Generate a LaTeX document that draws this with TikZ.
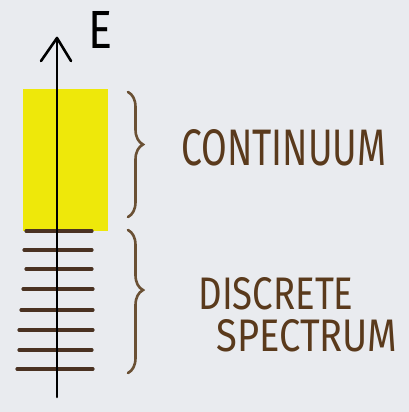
\documentclass[tikz,border=0pt]{standalone}
\usepackage{fontspec}
\setmainfont{Fira Sans}
\usetikzlibrary{decorations.pathreplacing}
\definecolor{bg}{HTML}{E9EBEF}
\definecolor{hl}{HTML}{EEE80A}
\definecolor{ink}{HTML}{4A3222}
\definecolor{txt}{HTML}{5A3A1C}
\definecolor{brc}{HTML}{6A5034}
\tikzset{
  level/.style={draw=ink, line width=3.2pt, line cap=round},
  bracestyle/.style={draw=brc, line width=2.6pt, line cap=round, decorate, decoration={brace, amplitude=15pt, aspect=0.42}},
  lbl/.style={text=txt, inner sep=0pt},
}
\begin{document}
\begin{tikzpicture}[x=1pt,y=-1pt]
\useasboundingbox (0,0) rectangle (409,412);
\fill[bg] (0,0) rectangle (409,412);
% yellow continuum
\fill[hl] (23,89) rectangle (108,231);
% discrete levels
\foreach \y/\a/\b in {231/26/92, 250/24/92, 269/26/92, 289/23/93, 310/21/93, 330/19/93, 350/19/92, 369/17/93}{
  \draw[level] (\a,\y) -- (\b,\y);
}
% axis
\coordinate (bot) at (57,397);
\coordinate (top) at (57,38);
\draw[line width=2.6pt, line cap=round] (bot) -- (top);
\draw[line width=2.6pt, line cap=round, line join=round] (41,61) -- (top) -- (71,61);
\node[text=black, inner sep=0pt] (E) at (100,30) {\resizebox{24pt}{37pt}{E}};
% braces
\coordinate (b1t) at (128,92);
\coordinate (b1b) at (128,217);
\coordinate (b2t) at (128,230);
\coordinate (b2b) at (128,373);
\draw[bracestyle] (b1t) -- (b1b);
\draw[bracestyle] (b2t) -- (b2b);
% labels
\node[lbl] (cont) at (284,148) {\resizebox{205pt}{36pt}{CONTINUUM}};
\node[lbl] (disc) at (276,294) {\resizebox{155pt}{32pt}{DISCRETE}};
\node[lbl] (spec) at (307,336) {\resizebox{181pt}{32pt}{SPECTRUM}};
\end{tikzpicture}
\end{document}
